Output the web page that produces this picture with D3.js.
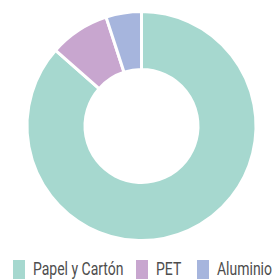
<!DOCTYPE html>
<html>
<head>
<meta charset="utf-8">
<script src="https://cdn.jsdelivr.net/npm/d3@7"></script>
<style>
  body { margin: 0; background: #fff; }
  svg { display: block; }
</style>
</head>
<body>
<svg id="chart" width="272" height="279"></svg>
<script>
// data
const categories = ["Papel y Cartón", "PET", "Aluminio"];
const values = [86.5, 8.5, 5];
const colors = ["#a6d8cf", "#c8a6cf", "#a6b5dd"];

const width = 272, height = 279;
const cx = 141.5, cy = 126;
const outerR = 114.5, innerR = 56.5;

const svg = d3.select("#chart");

const color = d3.scaleOrdinal().domain(categories).range(colors);

const pie = d3.pie().sort(null).value(d => d.value);
const arc = d3.arc().innerRadius(innerR).outerRadius(outerR);

const rows = categories.map((c, i) => ({ name: c, value: values[i] }));

// donut
svg.append("g")
  .attr("transform", `translate(${cx},${cy})`)
  .selectAll("path")
  .data(pie(rows))
  .join("path")
  .attr("d", arc)
  .attr("fill", d => color(d.data.name))
  .attr("stroke", "#fff")
  .attr("stroke-width", 3)
  .attr("stroke-linejoin", "miter");

// legend (item offsets as in the original layout)
const legendX = [13, 136, 197];
const legend = svg.append("g").attr("transform", "translate(0,260)");
rows.forEach((d, i) => {
  const g = legend.append("g").attr("transform", `translate(${legendX[i]},0)`);
  g.append("rect")
    .attr("width", 12).attr("height", 20)
    .attr("fill", color(d.name));
  g.append("text")
    .attr("transform", "translate(20,15) scale(0.8,1)")
    .attr("font-family", "Roboto, sans-serif")
    .attr("font-size", 17.5)
    .attr("fill", "#4d4d4d")
    .text(d.name);
});
</script>
</body>
</html>
